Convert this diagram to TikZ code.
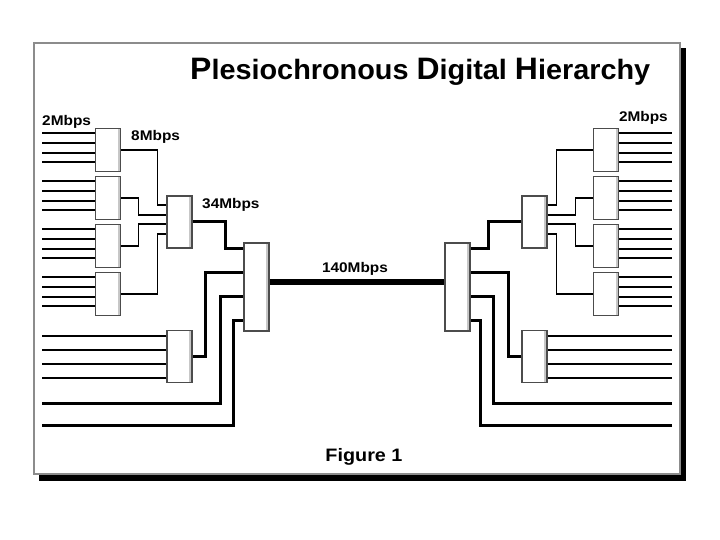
\documentclass[tikz,border=0pt]{standalone}
\usepackage{fontspec}
\newfontfamily\labelfont[FakeStretch=1.1]{Liberation Sans}
\newfontfamily\titlefont[FakeStretch=1.03]{Liberation Sans}
\tikzset{%
  % Specifications for style of nodes:
       muxbox/.style = {rectangle, draw=black!70, line width=1.5pt, fill=white,
                        minimum width=25pt, inner sep=0pt,
                        path picture={\fill[black!22]
                          ([xshift=-3pt]path picture bounding box.north east)
                          rectangle (path picture bounding box.south east);}},
      mux2to8/.style = {muxbox, minimum height=43pt},
     mux8to34/.style = {muxbox, minimum height=52pt},
   mux34to140/.style = {muxbox, minimum height=88pt},
         rate/.style = {inner sep=0pt, font=\labelfont\bfseries\fontsize{14}{16}\selectfont},
  % Specifications for style of lines:
       line2M/.style = {line width=1.4pt},
       line8M/.style = {line width=2pt},
      line34M/.style = {line width=3pt},
     line140M/.style = {line width=6pt},
}
\begin{document}
\begin{tikzpicture}[x=1pt, y=-1pt]
  \useasboundingbox (0,0) rectangle (720,540);
  % Frame with shadow
  \fill[black] (39,48) rectangle (686,481);
  \draw[draw=black!45, line width=2pt, fill=white] (34,43) rectangle (680,474);

  % Specification of nodes (position, etc.)
  \node (title) [anchor=base west, inner sep=0pt, font=\titlefont\bfseries] at (190,80)
    {{\fontsize{31}{34}\selectfont P}{\fontsize{28}{30}\selectfont lesiochronous
     }{\fontsize{31}{34}\selectfont D}{\fontsize{28}{30}\selectfont igital
     }{\fontsize{31}{34}\selectfont H}{\fontsize{28}{30}\selectfont ierarchy}};
  \node (caption) [anchor=base, inner sep=0pt, font=\labelfont\bfseries\fontsize{18}{20}\selectfont] at (364,461) {Figure 1};

  \coordinate (leftEdge)  at (42,0);
  \coordinate (rightEdge) at (672,0);
  \coordinate (in34L_1)   at (42,403);
  \coordinate (in34L_2)   at (42,425);
  \coordinate (in34R_1)   at (672,403);
  \coordinate (in34R_2)   at (672,425);

  % left side
  \node (mux8L_1)   [mux2to8]    at (108,150) {};
  \node (mux8L_2)   [mux2to8]    at (108,198) {};
  \node (mux8L_3)   [mux2to8]    at (108,246) {};
  \node (mux8L_4)   [mux2to8]    at (108,294) {};
  \node (mux34L_1)  [mux8to34]   at (179.5,222) {};
  \node (mux34L_2)  [mux8to34]   at (179.5,356.5) {};
  \node (mux140L)   [mux34to140] at (256.5,287) {};

  % right side
  \node (mux8R_1)   [mux2to8]    at (606,150) {};
  \node (mux8R_2)   [mux2to8]    at (606,198) {};
  \node (mux8R_3)   [mux2to8]    at (606,246) {};
  \node (mux8R_4)   [mux2to8]    at (606,294) {};
  \node (mux34R_1)  [mux8to34]   at (534.5,222) {};
  \node (mux34R_2)  [mux8to34]   at (534.5,356.5) {};
  \node (mux140R)   [mux34to140] at (457.5,287) {};

  % rate labels
  \node (rate2L)    [rate, anchor=base west] at (42,126)  {2Mbps};
  \node (rate8L)    [rate, anchor=base west] at (131,141) {8Mbps};
  \node (rate34L)   [rate, anchor=base west] at (202,208) {34Mbps};
  \node (rate140)   [rate, anchor=base]      at (355,272) {140Mbps};
  \node (rate2R)    [rate, anchor=base east] at (668,122) {2Mbps};

  % Specification of lines between nodes specified above
  \foreach \n in {1,...,4}
    \foreach \s in {17,7,-3,-12} {
      \draw[line2M] ([yshift=\s pt]mux8L_\n.west) coordinate (t) -- (t -| leftEdge);
      \draw[line2M] ([yshift=\s pt]mux8R_\n.east) coordinate (t) -- (t -| rightEdge);
    }
  \foreach \s in {21,7,-7,-21} {
    \draw[line8M] ([yshift=\s pt]mux34L_2.west) coordinate (t) -- (t -| leftEdge);
    \draw[line8M] ([yshift=\s pt]mux34R_2.east) coordinate (t) -- (t -| rightEdge);
  }

  \draw[line2M] (mux8L_1.east) -| ([xshift=-9pt,yshift=17pt]mux34L_1.west) -- ([yshift=17pt]mux34L_1.west);
  \draw[line2M] (mux8L_2.east) -| ([xshift=-28pt,yshift=7pt]mux34L_1.west) -- ([yshift=7pt]mux34L_1.west);
  \draw[line2M] (mux8L_3.east) -| ([xshift=-28pt,yshift=-2pt]mux34L_1.west) -- ([yshift=-2pt]mux34L_1.west);
  \draw[line2M] (mux8L_4.east) -| ([xshift=-9pt,yshift=-12pt]mux34L_1.west) -- ([yshift=-12pt]mux34L_1.west);

  \draw[line2M] (mux8R_1.west) -| ([xshift=9pt,yshift=17pt]mux34R_1.east) -- ([yshift=17pt]mux34R_1.east);
  \draw[line2M] (mux8R_2.west) -| ([xshift=28pt,yshift=7pt]mux34R_1.east) -- ([yshift=7pt]mux34R_1.east);
  \draw[line2M] (mux8R_3.west) -| ([xshift=28pt,yshift=-2pt]mux34R_1.east) -- ([yshift=-2pt]mux34R_1.east);
  \draw[line2M] (mux8R_4.west) -| ([xshift=9pt,yshift=-12pt]mux34R_1.east) -- ([yshift=-12pt]mux34R_1.east);

  \draw[line34M] (mux34L_1.east) -| ([xshift=-18pt,yshift=39pt]mux140L.west) -- ([yshift=39pt]mux140L.west);
  \draw[line34M] (mux34L_2.east) -| ([xshift=-38pt,yshift=15pt]mux140L.west) -- ([yshift=15pt]mux140L.west);
  \draw[line34M] (in34L_1) -| ([xshift=-23pt,yshift=-9pt]mux140L.west) -- ([yshift=-9pt]mux140L.west);
  \draw[line34M] (in34L_2) -| ([xshift=-10pt,yshift=-33pt]mux140L.west) -- ([yshift=-33pt]mux140L.west);

  \draw[line34M] (mux34R_1.west) -| ([xshift=18pt,yshift=39pt]mux140R.east) -- ([yshift=39pt]mux140R.east);
  \draw[line34M] (mux34R_2.west) -| ([xshift=38pt,yshift=15pt]mux140R.east) -- ([yshift=15pt]mux140R.east);
  \draw[line34M] (in34R_1) -| ([xshift=23pt,yshift=-9pt]mux140R.east) -- ([yshift=-9pt]mux140R.east);
  \draw[line34M] (in34R_2) -| ([xshift=10pt,yshift=-33pt]mux140R.east) -- ([yshift=-33pt]mux140R.east);

  \draw[line140M] ([yshift=5pt]mux140L.east) -- ([yshift=5pt]mux140R.west);
\end{tikzpicture}
\end{document}
